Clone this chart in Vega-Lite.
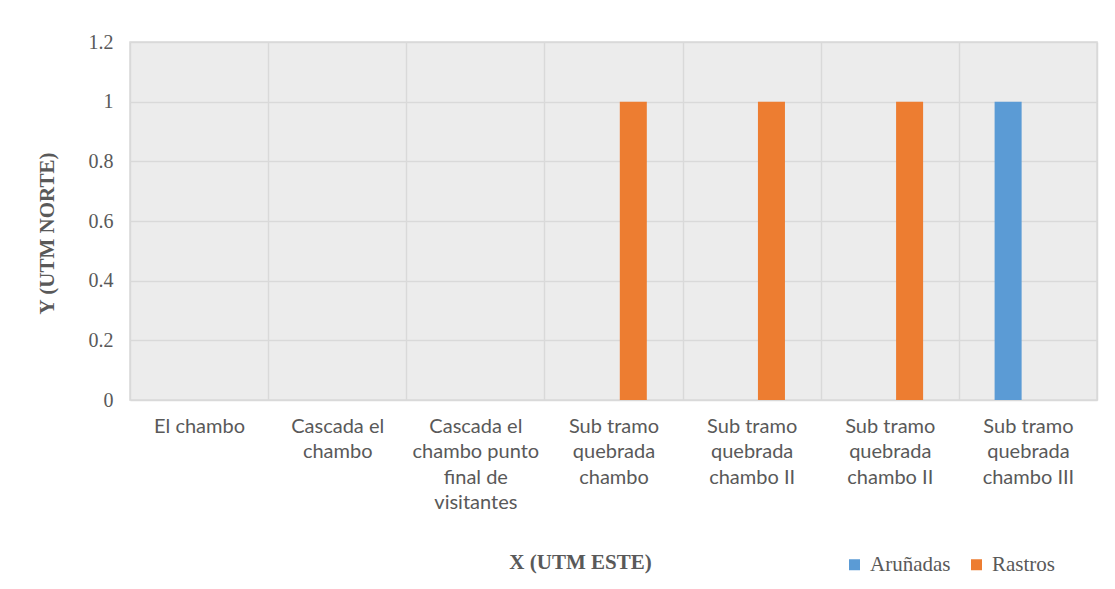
{
  "$schema": "https://vega.github.io/schema/vega-lite/v6.json",
  "width": 967,
  "height": 358,
  "autosize": {"type": "none"},
  "padding": {"left": 130, "top": 42, "right": 18, "bottom": 189},
  "background": "#ffffff",
  "data": {
    "values": [
      {"sitio": "El chambo", "serie": "Aruñadas", "valor": 0},
      {"sitio": "El chambo", "serie": "Rastros", "valor": 0},
      {"sitio": "Cascada el\nchambo", "serie": "Aruñadas", "valor": 0},
      {"sitio": "Cascada el\nchambo", "serie": "Rastros", "valor": 0},
      {"sitio": "Cascada el\nchambo punto\nfinal de\nvisitantes", "serie": "Aruñadas", "valor": 0},
      {"sitio": "Cascada el\nchambo punto\nfinal de\nvisitantes", "serie": "Rastros", "valor": 0},
      {"sitio": "Sub tramo\nquebrada\nchambo", "serie": "Aruñadas", "valor": 0},
      {"sitio": "Sub tramo\nquebrada\nchambo", "serie": "Rastros", "valor": 1},
      {"sitio": "Sub tramo\nquebrada\nchambo II", "serie": "Aruñadas", "valor": 0},
      {"sitio": "Sub tramo\nquebrada\nchambo II", "serie": "Rastros", "valor": 1},
      {"sitio": "Sub tramo\nquebrada\nchambo II ", "serie": "Aruñadas", "valor": 0},
      {"sitio": "Sub tramo\nquebrada\nchambo II ", "serie": "Rastros", "valor": 1},
      {"sitio": "Sub tramo\nquebrada\nchambo III", "serie": "Aruñadas", "valor": 1},
      {"sitio": "Sub tramo\nquebrada\nchambo III", "serie": "Rastros", "valor": 0}
    ]
  },
  "mark": {"type": "bar"},
  "encoding": {
    "x": {
      "field": "sitio",
      "type": "nominal",
      "sort": null,
      "scale": {"paddingInner": 0, "paddingOuter": 0},
      "axis": {
        "title": "X (UTM ESTE)",
        "titleFont": "Liberation Serif",
        "titleFontSize": 21,
        "titleFontWeight": "bold",
        "titleColor": "#595959",
        "titleX": 450,
        "titleY": 162,
        "titleAlign": "center",
        "titleBaseline": "middle",
        "labelExpr": "split(datum.label, '\\n')",
        "labelFont": "Lato",
        "labelFontSize": 20,
        "labelColor": "#595959",
        "labelLineHeight": 25.5,
        "labelAngle": 0,
        "labelBaseline": "top",
        "labelPadding": 16,
        "labelLimit": 0,
        "ticks": false,
        "domain": false,
        "grid": true,
        "tickBand": "extent",
        "gridColor": "#d9d9d9",
        "gridWidth": 1.5
      }
    },
    "xOffset": {
      "field": "serie",
      "type": "nominal",
      "sort": ["Aruñadas", "Rastros"],
      "scale": {"paddingInner": 0.318, "paddingOuter": 0.9026}
    },
    "y": {
      "field": "valor",
      "type": "quantitative",
      "scale": {"domain": [0, 1.2], "nice": false},
      "axis": {
        "values": [0, 0.2, 0.4, 0.6, 0.8, 1, 1.2],
        "format": "~g",
        "title": "Y (UTM NORTE)",
        "titleFont": "Liberation Serif",
        "titleFontSize": 21,
        "titleFontWeight": "bold",
        "titleColor": "#595959",
        "titleX": -83,
        "titleY": 191,
        "titleAlign": "center",
        "titleBaseline": "middle",
        "titleAngle": -90,
        "labelFont": "Liberation Serif",
        "labelFontSize": 20,
        "labelColor": "#595959",
        "labelPadding": 17,
        "ticks": false,
        "domain": false,
        "grid": true,
        "gridColor": "#d9d9d9",
        "gridWidth": 1.5
      }
    },
    "color": {
      "field": "serie",
      "type": "nominal",
      "scale": {"domain": ["Aruñadas", "Rastros"], "range": ["#5B9BD5", "#ED7D31"]},
      "legend": {
        "title": null,
        "orient": "none",
        "direction": "horizontal",
        "legendX": 714,
        "legendY": 512,
        "symbolType": "square",
        "symbolSize": 121,
        "symbolStrokeWidth": 0,
        "symbolOpacity": 1,
        "labelFont": "Liberation Serif",
        "labelFontSize": 21,
        "labelColor": "#595959",
        "labelOffset": 5,
        "columnPadding": 15,
        "labelLimit": 0
      }
    }
  },
  "config": {
    "view": {"fill": "#ececec", "stroke": "#d9d9d9", "strokeWidth": 1.5},
    "legend": {"labelFont": "Liberation Serif", "labelFontSize": 21}
  }
}
